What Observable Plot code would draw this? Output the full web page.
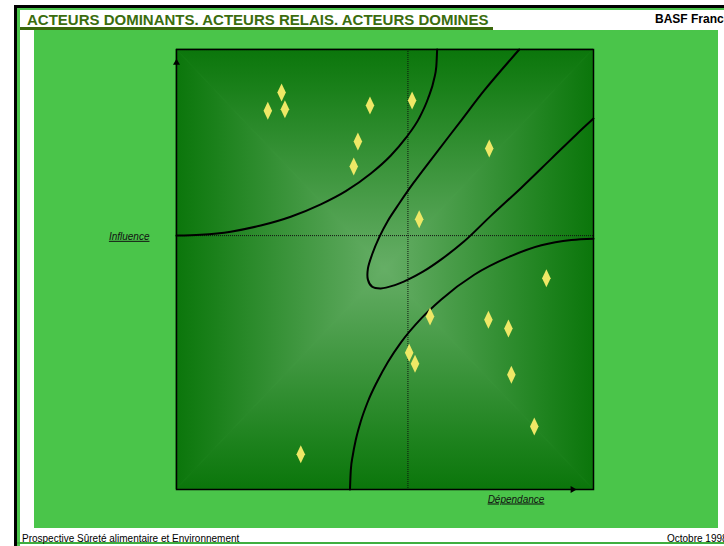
<!DOCTYPE html>
<html><head><meta charset="utf-8">
<script src="https://cdn.jsdelivr.net/npm/d3@7"></script>
<script src="https://cdn.jsdelivr.net/npm/@observablehq/plot@0.6"></script>
<style>
html,body{margin:0;padding:0;background:#fff;width:724px;height:546px;overflow:hidden;font-family:"Liberation Sans",Arial,sans-serif;}
#page{position:relative;width:724px;height:546px;overflow:hidden;background:#fff;}
.abs{position:absolute;white-space:nowrap;}
#chart{position:absolute;left:0;top:0;}
#chart svg .axislabel text{text-decoration:underline;}
</style></head>
<body><div id="page">
  <div class="abs" style="left:14px;top:5px;width:710px;height:3px;background:#000"></div>
  <div class="abs" style="left:14px;top:5px;width:3px;height:541px;background:#000"></div>
  <div class="abs" style="left:17px;top:8px;width:707px;height:2px;background:#4cc54c"></div>
  <div class="abs" style="left:17px;top:8px;width:3px;height:538px;background:#4cc54c"></div>
  <div class="abs" style="left:17px;top:542px;width:707px;height:2px;background:#3fae3f"></div>
  <div class="abs" style="left:34px;top:30px;width:684px;height:498px;background:#4ac54a"></div>
  <div class="abs" style="left:20px;top:27px;width:473px;height:3px;background:#3a680c"></div>
  <div class="abs" id="title" style="left:27px;top:12px;font-size:15px;line-height:15px;font-weight:bold;color:#3b6d0e;"></div>
  <div class="abs" id="org" style="left:655px;top:13px;font-size:12px;line-height:12px;font-weight:bold;color:#000;"></div>
  <div class="abs" id="footL" style="left:22px;top:533.5px;font-size:10px;line-height:10px;color:#000;"></div>
  <div class="abs" id="footR" style="left:667px;top:533.5px;font-size:10px;line-height:10px;color:#000;"></div>
  <div id="chart"></div>
</div>
<script>
// ---- texts ----
const titleText = "ACTEURS DOMINANTS. ACTEURS RELAIS. ACTEURS DOMINES";
const orgText = "BASF France";
const footerLeft = "Prospective Sûreté alimentaire et Environnement";
const footerRight = "Octobre 1998";
const yLabel = "Influence";
const xLabel = "Dépendance";

// ---- actors (dépendance, influence) on a 0-100 scale ----
const actorDep = [21.9, 25.2, 26.0, 46.4, 43.5, 42.5, 56.5, 75.0, 58.2, 88.7, 60.8, 74.8, 79.6, 55.8, 57.2, 80.3, 85.8, 29.8];
const actorInf = [86.1, 90.2, 86.4, 87.3, 79.1, 73.4, 88.4, 77.5, 61.4, 48.0, 39.3, 38.6, 36.6, 31.1, 28.6, 26.1, 14.3, 8.0];

// ---- cross (mean) lines ----
const meanDep = 55.5;
const meanInf = 57.7;

// ---- boundary curves [dépendance, influence] ----
const curveDominants = [[0,57.7],[5.8,57.9],[13.0,58.6],[20.2,60.0],[27.4,62.0],[34.6,64.8],[40.6,67.8],[46.6,71.8],[51.4,75.9],[55.0,79.9],[58.2,84.4],[60.3,88.8],[61.8,93.4],[62.3,96.1],[62.5,100]];
const curveRelais = [[82.2,100],[73.8,90.7],[68.3,83.9],[61.8,75.9],[56.7,69.5],[53.4,65.0],[50.7,61.1],[48.6,57.3],[46.9,53.4],[45.9,50.2],[45.9,47.7],[46.9,46.1],[49.0,45.7],[52.2,46.4],[55.5,47.7],[59.1,49.5],[63.5,52.3],[69.0,56.4],[75.5,62.3],[82.7,68.6],[89.9,75.2],[95.9,80.7],[100,84.3]];
const curveDomines = [[41.6,0],[41.8,4.4],[42.3,7.9],[43.0,11.3],[44.2,15.5],[45.9,20.0],[48.1,24.5],[50.7,29.0],[53.8,33.4],[58.7,38.9],[63.5,43.2],[71.4,48.8],[79.6,52.8],[87.5,55.5],[94.7,56.7],[100,57.0]];

// ---- gradient glow centre ----
const glowCenter = [50, 50];

document.getElementById("title").textContent = titleText;
document.getElementById("org").textContent = orgText;
document.getElementById("footL").textContent = footerLeft;
document.getElementById("footR").textContent = footerRight;

const actors = actorDep.map((d, i) => ({dep: d, inf: actorInf[i]}));

const tallDiamond = {
  draw(ctx, size) {
    const r = Math.sqrt(size / Math.PI);
    const w = r * 0.95, h = r * 2;
    ctx.moveTo(0, -h); ctx.lineTo(w, 0); ctx.lineTo(0, h); ctx.lineTo(-w, 0); ctx.closePath();
  }
};

function gradientBackground(index, scales, values, dims, context) {
  const g = d3.create("svg:g");
  const L = scales.x(0), R = scales.x(100), T = scales.y(100), B = scales.y(0);
  const cx = scales.x(glowCenter[0]), cy = scales.y(glowCenter[1]);
  const dark = "#0b760b", light = "#66ae66";
  const tris = [
    {id: "gT", pts: [[L,T],[R,T],[cx,cy]], from: [cx,T], to: [cx,cy]},
    {id: "gB", pts: [[L,B],[R,B],[cx,cy]], from: [cx,B], to: [cx,cy]},
    {id: "gL", pts: [[L,T],[L,B],[cx,cy]], from: [L,cy], to: [cx,cy]},
    {id: "gR", pts: [[R,T],[R,B],[cx,cy]], from: [R,cy], to: [cx,cy]}
  ];
  const defs = g.append("defs");
  for (const t of tris) {
    const lg = defs.append("linearGradient").attr("id", t.id).attr("gradientUnits", "userSpaceOnUse")
      .attr("x1", t.from[0]).attr("y1", t.from[1]).attr("x2", t.to[0]).attr("y2", t.to[1]);
    lg.append("stop").attr("offset", 0).attr("stop-color", dark);
    lg.append("stop").attr("offset", 0.18).attr("stop-color", "#1a801a");
    lg.append("stop").attr("offset", 1).attr("stop-color", light);
  }
  for (const t of tris) {
    g.append("polygon").attr("points", t.pts.map(p => p.join(",")).join(" "))
      .attr("fill", `url(#${t.id})`).attr("stroke", `url(#${t.id})`).attr("stroke-width", 0.8);
  }
  return g.node();
}

const plot = Plot.plot({
  width: 724,
  height: 546,
  marginLeft: 176,
  marginRight: 131,
  marginTop: 49,
  marginBottom: 57,
  style: {background: "transparent", overflow: "visible", fontFamily: "'Liberation Sans', Arial, sans-serif"},
  x: {domain: [0, 100], axis: null},
  y: {domain: [0, 100], axis: null},
  marks: [
    gradientBackground,
    Plot.ruleX([meanDep], {stroke: "#111", strokeWidth: 1, strokeDasharray: "1,1"}),
    Plot.ruleY([meanInf], {stroke: "#111", strokeWidth: 1, strokeDasharray: "1,1"}),
    Plot.line(curveDominants, {x: d => d[0], y: d => d[1], curve: "monotone-x", stroke: "#000", strokeWidth: 2}),
    Plot.line(curveRelais, {x: d => d[0], y: d => d[1], curve: "catmull-rom", stroke: "#000", strokeWidth: 2}),
    Plot.line(curveDomines, {x: d => d[0], y: d => d[1], curve: "monotone-x", stroke: "#000", strokeWidth: 2}),
    Plot.dot(actors, {x: "dep", y: "inf", r: 4.5, symbol: tallDiamond, fill: "#eee866", stroke: "none"}),
    Plot.frame({stroke: "#000", strokeWidth: 1.5}),
    Plot.dot([0], {x: 0, y: 97, symbol: "triangle", r: 2.6, fill: "#000", stroke: "none"}),
    Plot.dot([0], {x: 95, y: 0, symbol: "triangle", r: 2.6, rotate: 90, fill: "#000", stroke: "none"}),
    Plot.text([yLabel], {x: 0, y: meanInf, text: d => d, dx: -27, dy: 1, textAnchor: "end", fontSize: 10, fontStyle: "italic", fill: "#111", className: "axislabel"}),
    Plot.text([xLabel], {frameAnchor: "bottom", text: d => d, dx: 131, dy: 13, fontSize: 10, fontStyle: "italic", fill: "#111", className: "axislabel"})
  ]
});
document.getElementById("chart").appendChild(plot);
</script>
</body></html>
